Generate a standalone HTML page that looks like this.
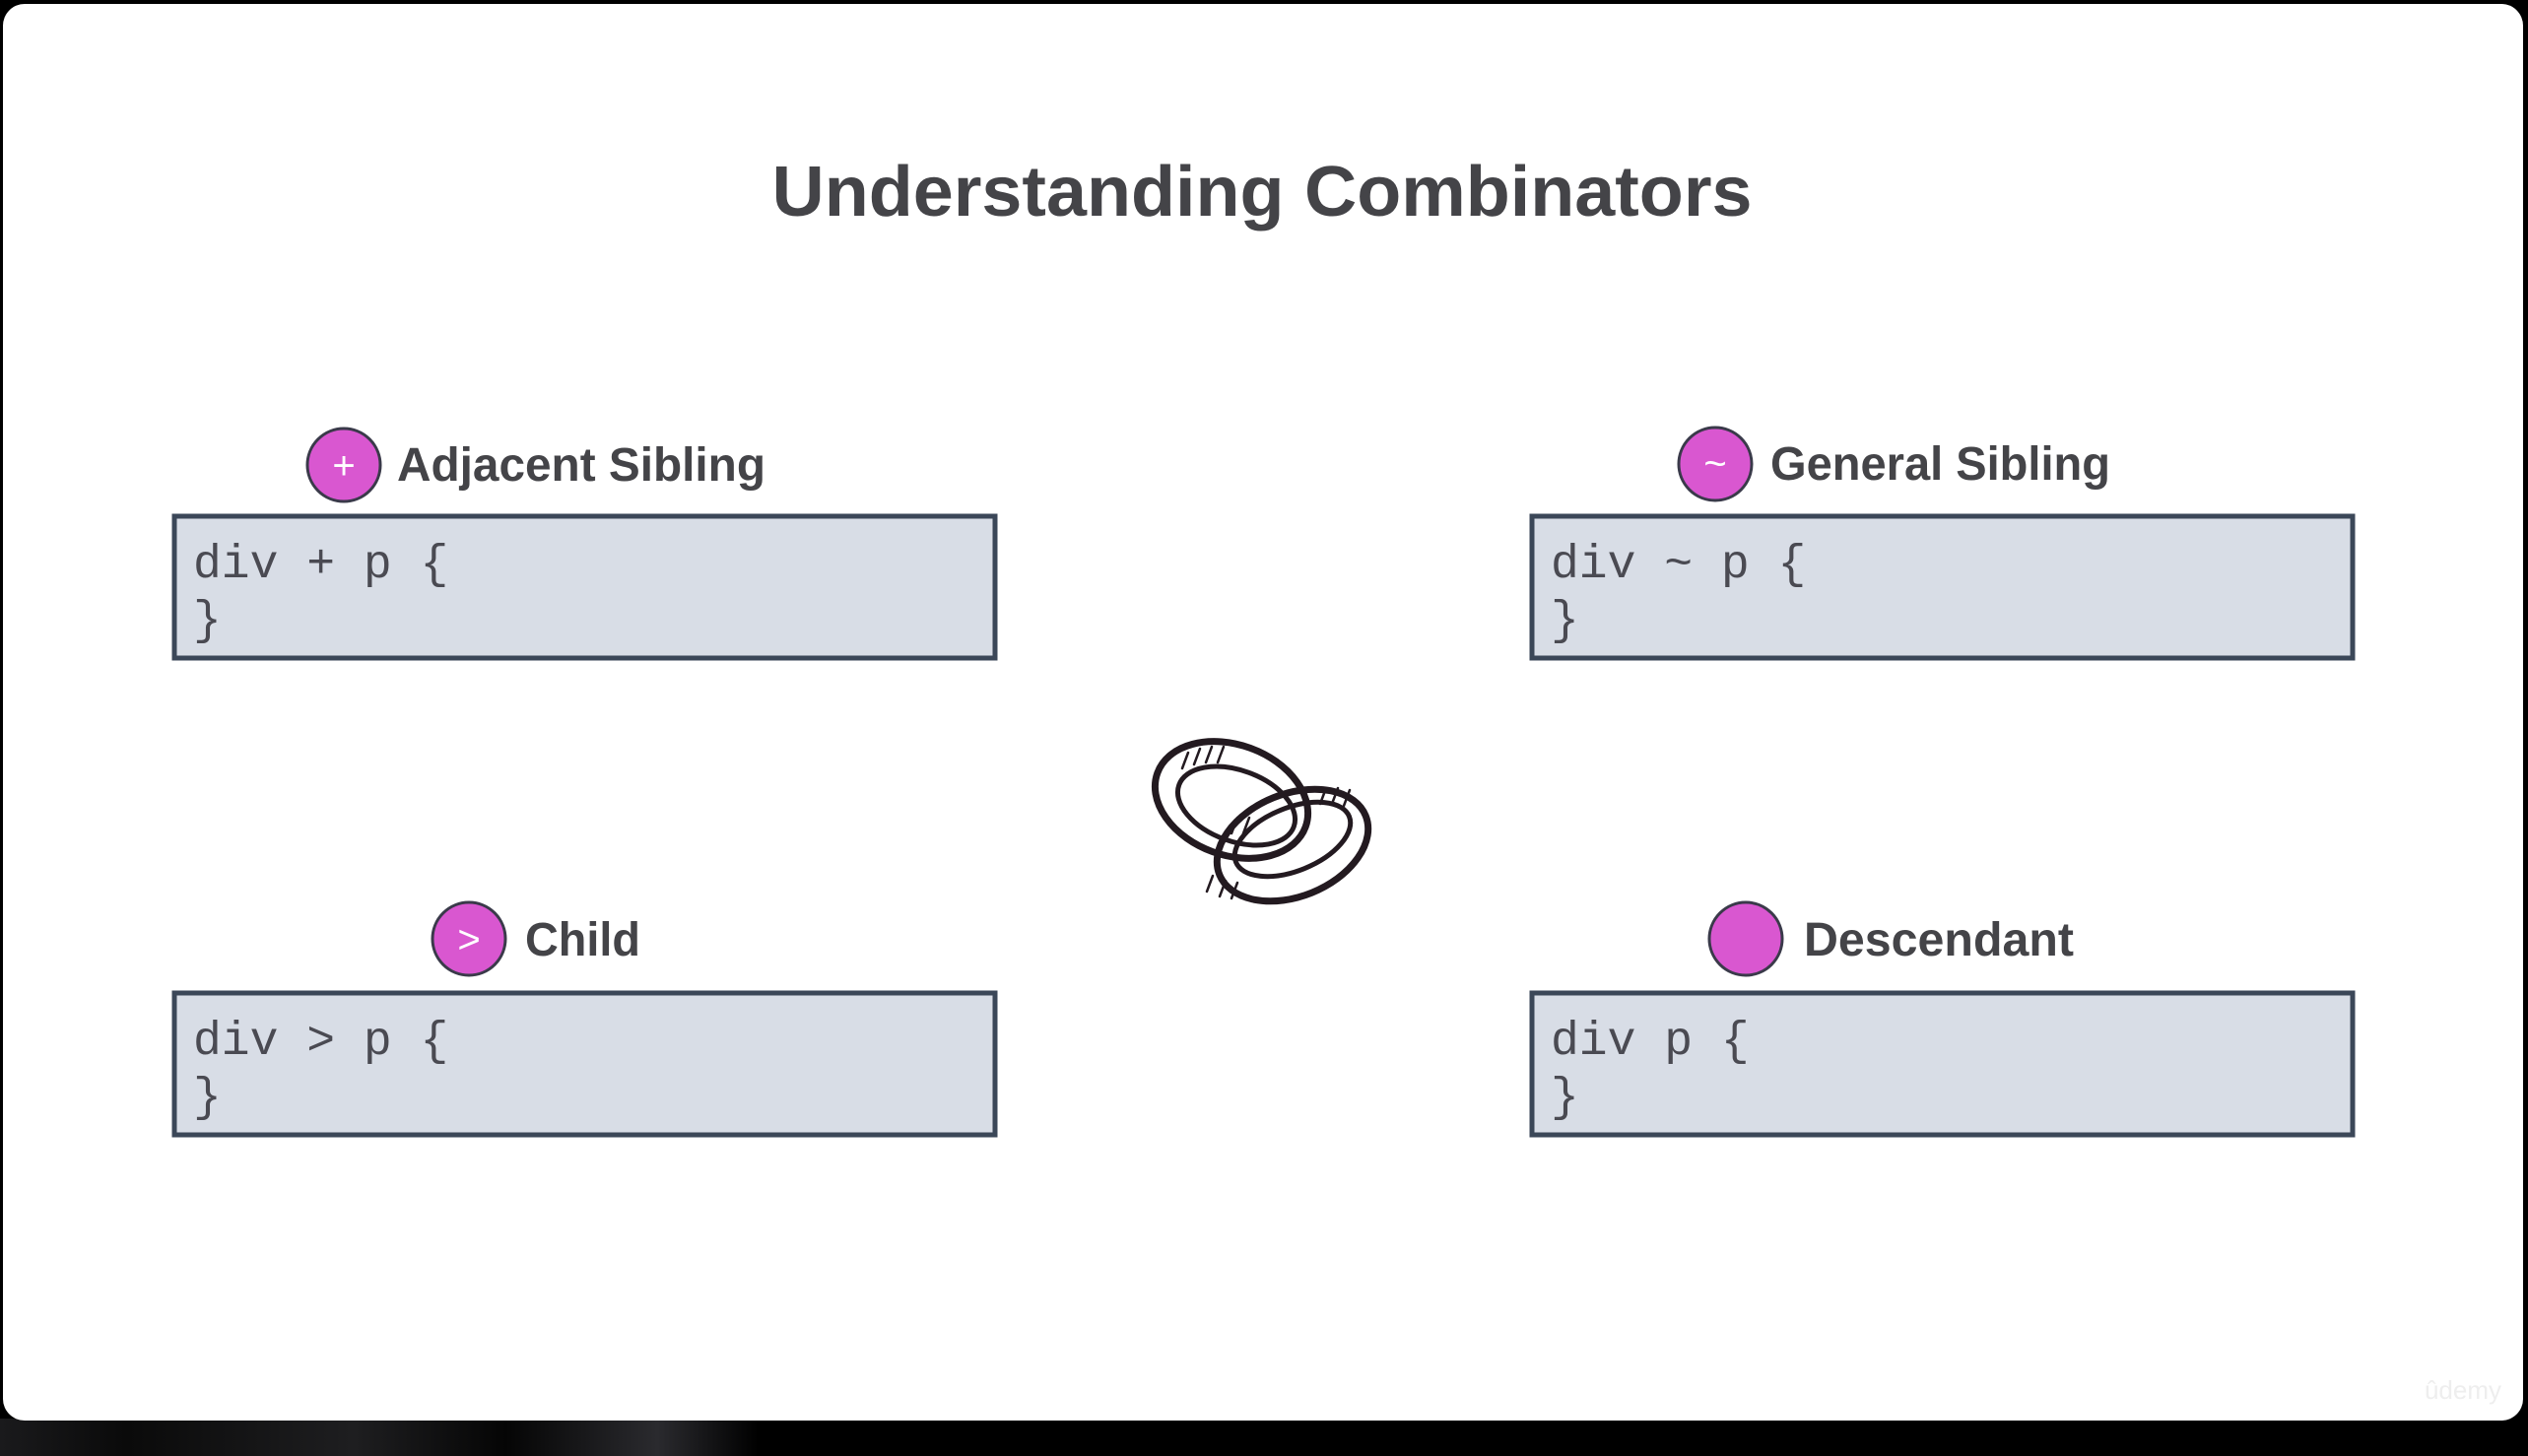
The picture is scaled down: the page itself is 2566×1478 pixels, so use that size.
<!DOCTYPE html>
<html><head><meta charset="utf-8"><style>
html,body{margin:0;padding:0;background:#000;width:2566px;height:1478px;overflow:hidden}
svg{display:block}
</style></head><body>
<svg width="2566" height="1478" viewBox="0 0 2566 1478" xmlns="http://www.w3.org/2000/svg">
<defs>
<linearGradient id="bot" x1="0" y1="0" x2="1" y2="0">
<stop offset="0" stop-color="#1a1a1c"/><stop offset="0.05" stop-color="#0a0a0a"/><stop offset="0.14" stop-color="#1e1e20"/><stop offset="0.2" stop-color="#050505"/><stop offset="0.26" stop-color="#2a2a2e"/><stop offset="0.3" stop-color="#000"/><stop offset="1" stop-color="#000"/>
</linearGradient>
</defs>
<rect x="0" y="0" width="2566" height="1478" fill="#000"/>
<rect x="0" y="1440" width="2566" height="38" fill="url(#bot)"/>
<rect x="3" y="4" width="2558" height="1438" rx="22" fill="#fff"/>
<text x="1281" y="219" text-anchor="middle" font-family="Liberation Sans, sans-serif" font-weight="bold" font-size="72" fill="#444448" textLength="995" lengthAdjust="spacingAndGlyphs">Understanding Combinators</text>

<g stroke="#3b4758" stroke-width="5" fill="#d8dde6">
<rect x="177" y="524" width="833" height="144"/>
<rect x="1555" y="524" width="833" height="144"/>
<rect x="177" y="1008" width="833" height="144"/>
<rect x="1555" y="1008" width="833" height="144"/>
</g>
<g font-family="Liberation Mono, monospace" font-size="48" fill="#4a4a52">
<text x="196" y="586">div + p {</text><text x="196" y="643">}</text>
<text x="1574" y="586">div ~ p {</text><text x="1574" y="643">}</text>
<text x="196" y="1070">div &gt; p {</text><text x="196" y="1127">}</text>
<text x="1574" y="1070">div p {</text><text x="1574" y="1127">}</text>
</g>

<g fill="#d957d0" stroke="#3a3a4a" stroke-width="3">
<circle cx="349" cy="472" r="37"/>
<circle cx="1741" cy="471" r="37"/>
<circle cx="476" cy="953" r="37"/>
<circle cx="1772" cy="953" r="37"/>
</g>
<g font-family="Liberation Sans, sans-serif" font-size="40" fill="#fff" text-anchor="middle">
<text x="349" y="486">+</text>
<text x="1741" y="484">~</text>
<text x="476" y="967">&gt;</text>
</g>
<g font-family="Liberation Sans, sans-serif" font-weight="bold" font-size="48" fill="#444448">
<text x="403" y="488" textLength="374" lengthAdjust="spacingAndGlyphs">Adjacent Sibling</text>
<text x="1797" y="487" textLength="345" lengthAdjust="spacingAndGlyphs">General Sibling</text>
<text x="533" y="970" textLength="117" lengthAdjust="spacingAndGlyphs">Child</text>
<text x="1831" y="970" textLength="274" lengthAdjust="spacingAndGlyphs">Descendant</text>
</g>

<g fill="none" stroke="#231a20" stroke-linecap="round">
<ellipse cx="1250" cy="812" rx="80" ry="56" transform="rotate(20 1250 812)" stroke-width="7"/>
<ellipse cx="1255" cy="818" rx="62" ry="36" transform="rotate(20 1255 818)" stroke-width="5"/>
<ellipse cx="1312" cy="858" rx="80" ry="52" transform="rotate(-22 1312 858)" stroke-width="7"/>
<ellipse cx="1312" cy="852" rx="62" ry="32" transform="rotate(-22 1312 852)" stroke-width="5"/>
<path d="M1200 780 l6 -16 M1212 776 l6 -16 M1224 774 l6 -16 M1236 774 l6 -16 M1340 816 l6 -16 M1352 816 l6 -16 M1364 818 l6 -16 M1250 846 l6 -16 M1262 846 l6 -16 M1225 905 l6 -16 M1238 910 l6 -16 M1250 912 l6 -16" stroke-width="2.5"/>
</g>
<text x="2500" y="1420" font-family="Liberation Sans, sans-serif" font-size="26" fill="#eee" text-anchor="middle">ûdemy</text>
</svg>
</body></html>
